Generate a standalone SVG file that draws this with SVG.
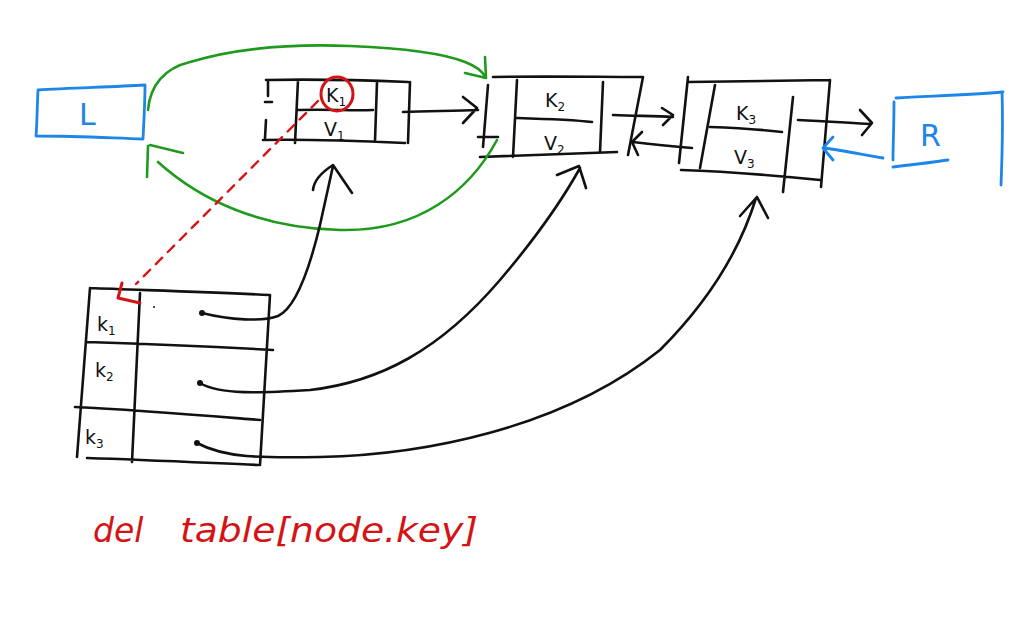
<svg xmlns="http://www.w3.org/2000/svg" width="1024" height="640" viewBox="0 0 1024 640">
<style>
.k{fill:none;stroke:#111;stroke-width:2.6;stroke-linecap:round;stroke-linejoin:round}
.b{fill:none;stroke:#1e86e8;stroke-width:2.8;stroke-linecap:round;stroke-linejoin:round}
.g{fill:none;stroke:#1f9a1f;stroke-width:2.6;stroke-linecap:round;stroke-linejoin:round}
.r{fill:none;stroke:#d41414;stroke-width:3;stroke-linecap:round;stroke-linejoin:round}
.rd{fill:none;stroke:#d41414;stroke-width:2.4;stroke-dasharray:9 8;stroke-linecap:round}
.t{font-family:"DejaVu Sans","Liberation Sans",sans-serif;fill:#111;font-size:19px}
.tb{font-family:"DejaVu Sans","Liberation Sans",sans-serif;fill:#1e86e8;font-size:30px}
.tr{font-family:"DejaVu Sans","Liberation Sans",sans-serif;fill:#d41414;font-size:33px;font-style:italic}
</style>
<rect width="1024" height="640" fill="#fff"/>
<g id="L">
<path class="b" d="M38,90 C70,88 110,87 145,85 M145,85 C145,100 144,120 143,139 M36,136 C80,136 110,138 143,139 M38,90 C37,110 37,125 36,136"/>
<text class="tb" x="79" y="125">L</text>
</g>
<g id="R">
<path class="b" d="M896,98 C930,96 970,95 1003,92 M1002,92 C1003,120 1002,160 1001,185 M894,102 C894,125 893,145 893,160 M893,167 C910,165 935,162 948,160"/>
<text class="tb" x="920" y="146">R</text>
</g>
<g id="node1">
<path class="k" d="M266,80 C310,79 360,80 408,82 M263,140 C310,139 360,141 405,143 M268,82 L268,96 M265,102 L272,102 M266,120 L265,138 M298,80 L295,143 M298,110 C330,109 350,111 373,110 M377,82 L375,141 M410,82 L408,143"/>
<text class="t" x="326" y="102">K<tspan font-size="12" dy="4">1</tspan></text>
<text class="t" x="324" y="136">V<tspan font-size="12" dy="4">1</tspan></text>
<ellipse class="r" cx="337" cy="94" rx="16" ry="17"/>
</g>
<g id="node2">
<path class="k" d="M493,77 C540,76 600,77 643,77 M488,85 L483,147 M478,137 L498,137 M517,80 L513,157 M517,118 C550,119 575,120 592,122 M603,82 L600,152 M643,77 L628,155 M480,157 C530,155 580,153 617,152"/>
<text class="t" x="545" y="107">K<tspan font-size="12" dy="4">2</tspan></text>
<text class="t" x="544" y="150">V<tspan font-size="12" dy="4">2</tspan></text>
</g>
<g id="node3">
<path class="k" d="M688,82 C740,81 790,81 830,80 M688,77 L679,163 M715,85 L700,168 M710,127 C740,128 765,130 782,132 M793,97 L783,192 M830,80 L821,187 M681,170 C740,172 790,177 820,180"/>
<text class="t" x="736" y="120">K<tspan font-size="12" dy="4">3</tspan></text>
<text class="t" x="734" y="164">V<tspan font-size="12" dy="4">3</tspan></text>
</g>
<g id="table">
<path class="k" d="M90,288 C140,290 210,292 270,295 M90,288 L77,457 M270,295 L260,465 M140,293 L132,462 M87,342 C150,344 220,347 273,350 M75,407 C140,410 210,416 260,420 M87,458 C150,460 210,463 258,465"/>
<text class="t" x="97" y="331">k<tspan font-size="12" dy="4">1</tspan></text>
<text class="t" x="95" y="377">k<tspan font-size="12" dy="4">2</tspan></text>
<text class="t" x="85" y="444">k<tspan font-size="12" dy="4">3</tspan></text>
<circle cx="202" cy="313" r="3" fill="#111"/>
<circle cx="200" cy="383" r="3" fill="#111"/>
<circle cx="197" cy="443" r="3" fill="#111"/>
<circle cx="154" cy="307" r="1" fill="#111"/>
</g>
<g id="connectors">
<path class="k" d="M403,112 C430,111 455,111 478,110 M463,97 L477,108 L463,123"/>
<path class="k" d="M613,115 C640,116 655,116 673,117 M662,108 L673,115 L663,125"/>
<path class="k" d="M692,148 C670,146 650,144 633,142 M642,132 L632,142 L638,155"/>
<path class="k" d="M798,120 C825,121 850,123 870,124 M860,110 L872,123 L862,135"/>
<path class="b" d="M883,158 C860,154 840,150 825,148 M833,137 L823,148 L833,160"/>
<path class="g" d="M148,110 C150,85 165,68 190,62 C240,47 300,44 350,46 C400,48 440,52 465,62 C478,67 483,72 485,77 M485,57 L486,78 L465,73"/>
<path class="g" d="M497,140 C470,190 420,232 340,230 C260,228 200,200 158,162 M183,153 L150,145 M148,146 L147,177"/>
<path class="rd" d="M318,101 L136,284"/>
<path class="r" d="M122,283 L118,298 L140,303"/>
<path class="k" d="M202,313 C230,320 262,322 278,316 C300,306 314,250 320,225 L333,166 M313,190 C314,180 322,172 333,165 L352,193"/>
<path class="k" d="M200,383 C220,395 260,393 310,390 C380,382 440,350 500,280 C540,233 565,195 580,168 M557,175 L579,166 L586,188"/>
<path class="k" d="M197,443 C225,458 260,458 320,457 C420,455 560,430 660,350 C710,300 740,250 756,198 M740,216 L757,197 L768,218"/>
</g>
<text class="tr" x="93" y="542">del</text>
<text class="tr" x="180" y="542" textLength="298" lengthAdjust="spacingAndGlyphs">table[node.key]</text>
</svg>
